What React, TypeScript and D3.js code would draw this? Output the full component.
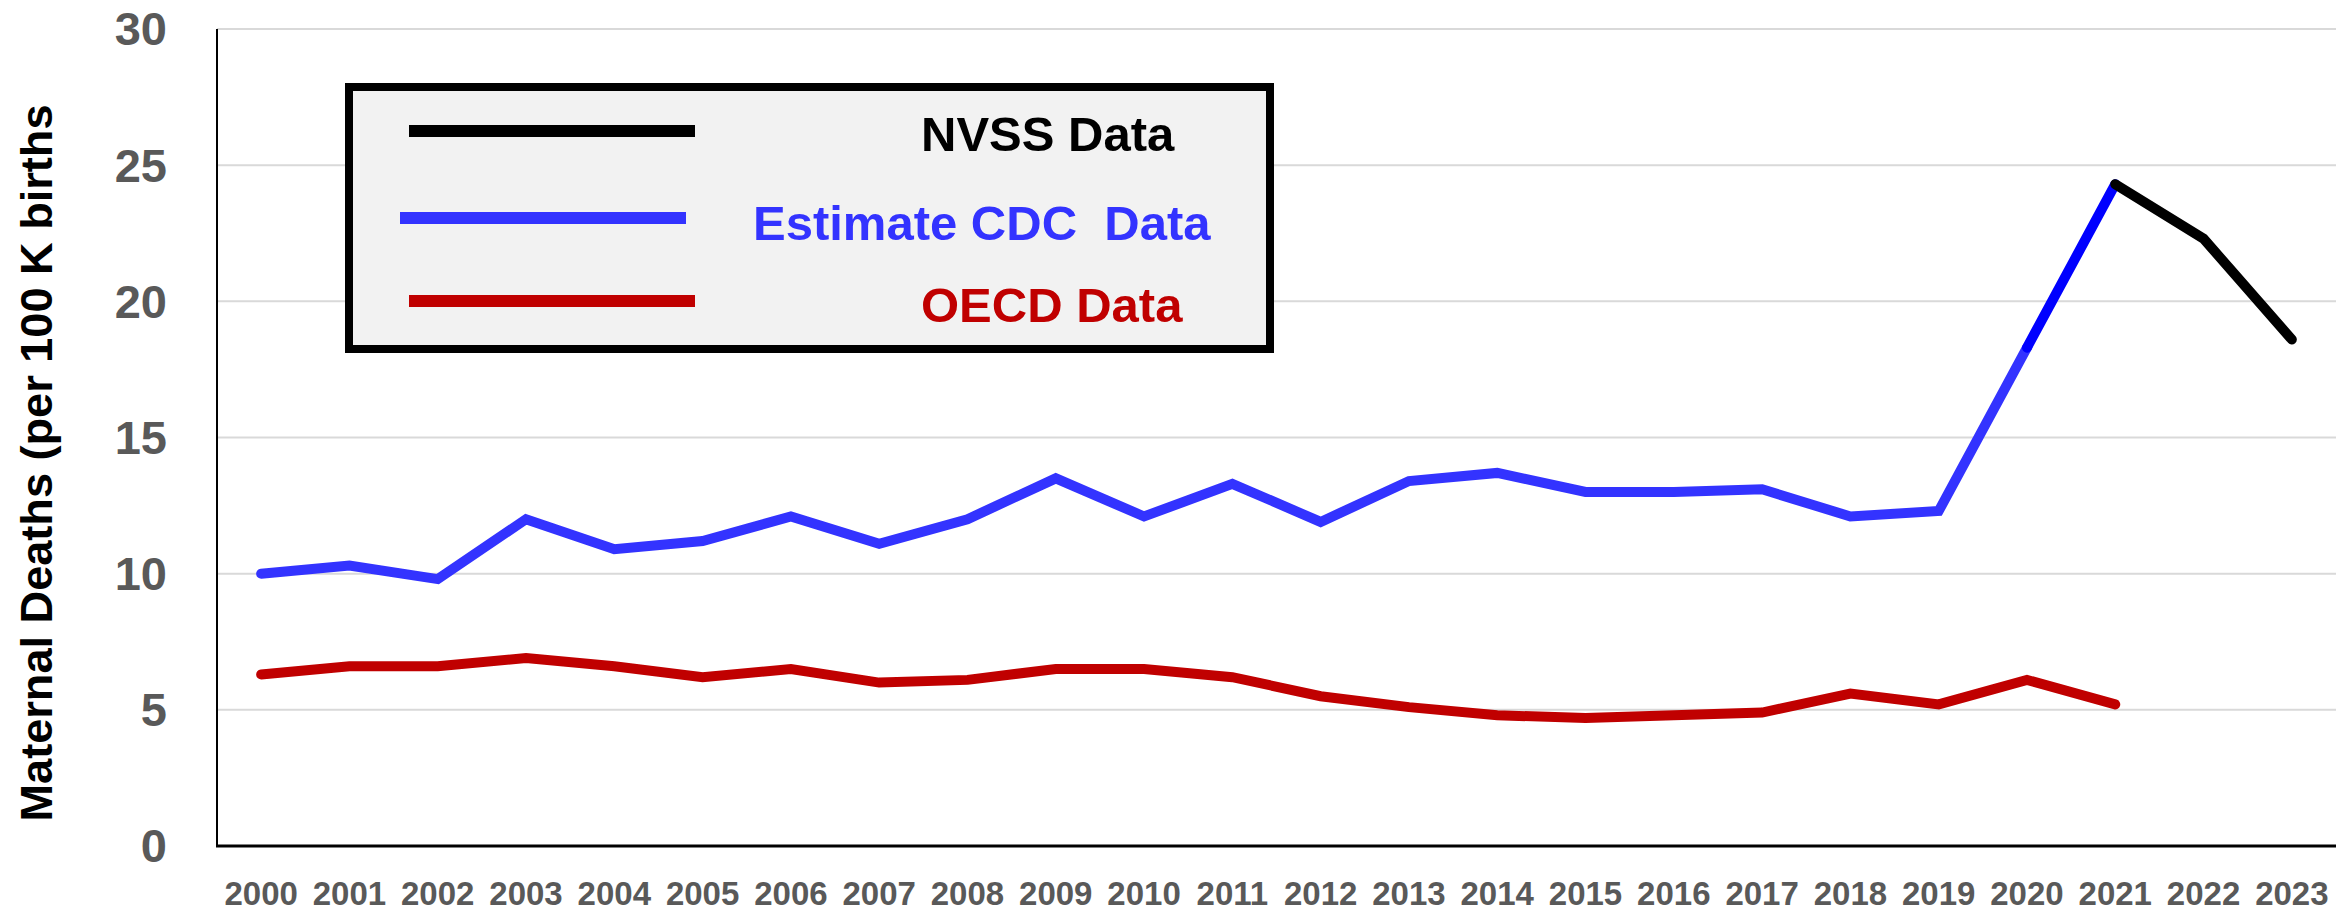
import React, { useEffect, useRef } from "react";
import * as d3 from "d3";

const years = [
  "2000", "2001", "2002", "2003", "2004", "2005", "2006", "2007",
  "2008", "2009", "2010", "2011", "2012", "2013", "2014", "2015",
  "2016", "2017", "2018", "2019", "2020", "2021", "2022", "2023",
];

// Estimate CDC Data, 2000-2020
const cdcEstimate = [
  10.0, 10.3, 9.8, 12.0, 10.9, 11.2, 12.1, 11.1, 12.0, 13.5, 12.1,
  13.3, 11.9, 13.4, 13.7, 13.0, 13.0, 13.1, 12.1, 12.3, 18.3,
];
const cdcEstimateYears = years.slice(0, 21);

// darker blue piece, 2020-2021
const cdcLate = [18.3, 24.3];
const cdcLateYears = ["2020", "2021"];

// NVSS Data, 2021-2023
const nvss = [24.3, 22.3, 18.6];
const nvssYears = ["2021", "2022", "2023"];

// OECD Data, 2000-2021
const oecd = [
  6.3, 6.6, 6.6, 6.9, 6.6, 6.2, 6.5, 6.0, 6.1, 6.5, 6.5,
  6.2, 5.5, 5.1, 4.8, 4.7, 4.8, 4.9, 5.6, 5.2, 6.1, 5.2,
];
const oecdYears = years.slice(0, 22);

const yTicks = [0, 5, 10, 15, 20, 25, 30];

const legendItems = [
  { label: "NVSS Data", color: "#000000" },
  { label: "Estimate CDC  Data", color: "#3333ff" },
  { label: "OECD Data", color: "#c00000" },
];

const W = 2348;
const H = 912;

const App = () => {
  const chartRef = useRef<SVGSVGElement>(null);

  useEffect(() => {
    const svg = d3.select(chartRef.current).attr("width", W).attr("height", H);
    svg.selectAll("*").remove();

    const margin = { top: 29, right: 12, bottom: 66, left: 217 };
    const x = d3
      .scaleBand()
      .domain(years)
      .range([margin.left, W - margin.right]);
    const y = d3
      .scaleLinear()
      .domain([0, 30])
      .range([H - margin.bottom, margin.top]);

    const cx = (yr: string) => (x(yr) as number) + x.bandwidth() / 2;

    // gridlines
    svg
      .append("g")
      .selectAll("line")
      .data(yTicks.filter((d) => d > 0))
      .join("line")
      .attr("x1", margin.left)
      .attr("x2", W - margin.right)
      .attr("y1", (d) => y(d))
      .attr("y2", (d) => y(d))
      .attr("stroke", "#d9d9d9")
      .attr("stroke-width", 2);

    // y tick labels
    svg
      .append("g")
      .selectAll("text")
      .data(yTicks)
      .join("text")
      .attr("x", 167)
      .attr("y", (d) => y(d))
      .attr("dy", "0.35em")
      .attr("text-anchor", "end")
      .attr("font-family", "'Liberation Sans', Arial, sans-serif")
      .attr("font-weight", "bold")
      .attr("font-size", 47)
      .attr("fill", "#595959")
      .text((d) => d);

    // x tick labels
    svg
      .append("g")
      .selectAll("text")
      .data(years)
      .join("text")
      .attr("x", (d) => cx(d))
      .attr("y", 905)
      .attr("text-anchor", "middle")
      .attr("font-family", "'Liberation Sans', Arial, sans-serif")
      .attr("font-weight", "bold")
      .attr("font-size", 33)
      .attr("fill", "#595959")
      .text((d) => d);

    // axes lines
    svg
      .append("line")
      .attr("x1", margin.left)
      .attr("x2", margin.left)
      .attr("y1", margin.top)
      .attr("y2", y(0))
      .attr("stroke", "#000")
      .attr("stroke-width", 2);
    svg
      .append("line")
      .attr("x1", margin.left - 1)
      .attr("x2", W - margin.right)
      .attr("y1", y(0))
      .attr("y2", y(0))
      .attr("stroke", "#000")
      .attr("stroke-width", 3);

    // y axis title
    svg
      .append("text")
      .attr("transform", `translate(52,${463}) rotate(-90)`)
      .attr("text-anchor", "middle")
      .attr("font-family", "'Liberation Sans', Arial, sans-serif")
      .attr("font-weight", "bold")
      .attr("font-size", 45)
      .attr("textLength", 717)
      .attr("lengthAdjust", "spacingAndGlyphs")
      .attr("fill", "#000")
      .text("Maternal Deaths (per 100 K births");

    // series
    const line = d3
      .line<[string, number]>()
      .x((d) => cx(d[0]))
      .y((d) => y(d[1]));

    const series: { yrs: string[]; vals: number[]; color: string }[] = [
      { yrs: oecdYears, vals: oecd, color: "#c00000" },
      { yrs: cdcEstimateYears, vals: cdcEstimate, color: "#3333ff" },
      { yrs: cdcLateYears, vals: cdcLate, color: "#0000ff" },
      { yrs: nvssYears, vals: nvss, color: "#000000" },
    ];

    svg
      .append("g")
      .selectAll("path")
      .data(series)
      .join("path")
      .attr("d", (s) => line(s.yrs.map((yr, i) => [yr, s.vals[i]] as [string, number])))
      .attr("fill", "none")
      .attr("stroke", (s) => s.color)
      .attr("stroke-width", 10)
      .attr("stroke-linecap", "round")
      .attr("stroke-linejoin", "miter");

    // legend
    const lg = svg.append("g");
    lg.append("rect")
      .attr("x", 349)
      .attr("y", 87)
      .attr("width", 921)
      .attr("height", 262)
      .attr("fill", "#f2f2f2")
      .attr("stroke", "#000")
      .attr("stroke-width", 8);

    const lineX = [[409, 695], [400, 686], [409, 695]];
    const lineY = [131, 218, 301];
    const textX = [921, 753, 921];
    const textY = [151, 240, 322];

    legendItems.forEach((it, i) => {
      lg.append("line")
        .attr("x1", lineX[i][0])
        .attr("x2", lineX[i][1])
        .attr("y1", lineY[i])
        .attr("y2", lineY[i])
        .attr("stroke", it.color)
        .attr("stroke-width", 12);
      lg.append("text")
        .attr("x", textX[i])
        .attr("y", textY[i])
        .attr("font-family", "'Liberation Sans', Arial, sans-serif")
        .attr("font-weight", "bold")
        .attr("font-size", 49)
        .attr("fill", it.color)
        .style("white-space", "pre")
        .text(it.label);
    });
  }, []);

  return (
    <svg
      ref={chartRef}
      style={{ position: "absolute", left: 0, top: 0, display: "block", background: "#fff" }}
    ></svg>
  );
};

export default App;
